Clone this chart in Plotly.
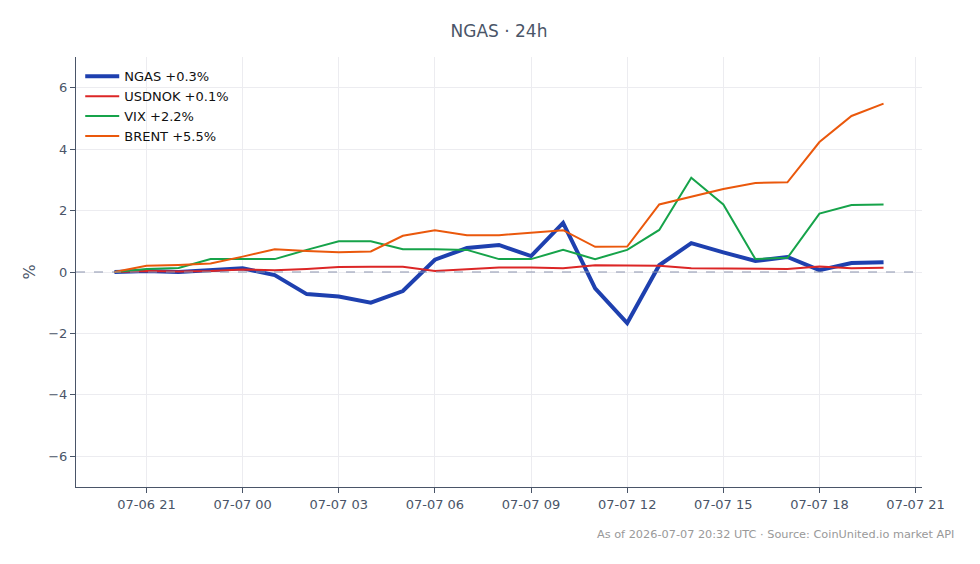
import plotly.graph_objects as go
import pandas as pd

times = pd.date_range("2026-07-06 20:00", "2026-07-07 20:00", freq="h")

ngas = [0.0, 0.03, 0.0, 0.07, 0.12, -0.1, -0.72, -0.8, -1.0, -0.62, 0.4, 0.78, 0.88, 0.52, 1.6,
        -0.53, -1.66, 0.22, 0.94, 0.64, 0.36, 0.49, 0.06, 0.29, 0.32]
usdnok = [0.0, 0.03, 0.02, 0.03, 0.08, 0.06, 0.1, 0.16, 0.17, 0.17, 0.03, 0.08, 0.15, 0.15, 0.12,
          0.22, 0.2, 0.2, 0.12, 0.12, 0.12, 0.1, 0.18, 0.12, 0.14]
vix = [0.0, 0.1, 0.13, 0.42, 0.42, 0.42, 0.72, 1.0, 1.0, 0.74, 0.74, 0.72, 0.42, 0.42, 0.72,
       0.42, 0.72, 1.37, 3.07, 2.2, 0.42, 0.46, 1.9, 2.18, 2.2]
brent = [0.0, 0.2, 0.23, 0.28, 0.5, 0.74, 0.68, 0.64, 0.67, 1.18, 1.36, 1.2, 1.2, 1.27, 1.36,
         0.82, 0.83, 2.2, 2.45, 2.7, 2.9, 2.92, 4.23, 5.08, 5.48]

series = [
    ("NGAS +0.3%", ngas, "#1e40af", 4),
    ("USDNOK +0.1%", usdnok, "#dc2626", 2),
    ("VIX +2.2%", vix, "#16a34a", 2),
    ("BRENT +5.5%", brent, "#ea580c", 2),
]

fig = go.Figure()
for name, vals, color, w in series:
    fig.add_trace(go.Scatter(x=times, y=vals, mode="lines", name=name,
                             line=dict(color=color, width=w)))

fig.add_hline(y=0, line=dict(color="#8b93ad", width=1, dash="dash"))

font = "DejaVu Sans, sans-serif"
fig.update_layout(
    width=980, height=564,
    margin=dict(l=76, r=58, t=57, b=77),
    paper_bgcolor="white", plot_bgcolor="white",
    font=dict(family=font, size=13, color="#4a5568"),
    title=dict(text="NGAS · 24h", x=0.5, xref="paper", xanchor="center",
               y=1 - 31 / 564, yanchor="middle",
               font=dict(size=17, color="#4a5568")),
    showlegend=True,
    legend=dict(x=0.005, y=0.99, xanchor="left", yanchor="top",
                bgcolor="rgba(255,255,255,0)", font=dict(size=13, color="#111"),
                tracegroupgap=2, itemwidth=34),
    xaxis=dict(
        range=[pd.Timestamp("2026-07-06 18:48"), pd.Timestamp("2026-07-07 21:12")],
        tick0=pd.Timestamp("2026-07-06 21:00"), dtick=3 * 3600 * 1000,
        tickformat="%m-%d %H", showgrid=True, gridcolor="#ececf0",
        showline=True, linecolor="#4a5568", linewidth=1,
        ticks="outside", ticklen=5, tickcolor="#4a5568", zeroline=False,
    ),
    yaxis=dict(
        range=[-7, 7], dtick=2, title=dict(text="%", standoff=8),
        showgrid=True, gridcolor="#ececf0",
        showline=True, linecolor="#4a5568", linewidth=1,
        ticks="outside", ticklen=5, tickcolor="#4a5568", zeroline=False,
    ),
)

fig.add_annotation(text="As of 2026-07-07 20:32 UTC · Source: CoinUnited.io market API",
                   xref="paper", yref="paper", x=1.04, y=-47 / 430, xanchor="right",
                   yanchor="middle", showarrow=False,
                   font=dict(size=11.3, color="#999999"))

fig.write_html("out.html")
